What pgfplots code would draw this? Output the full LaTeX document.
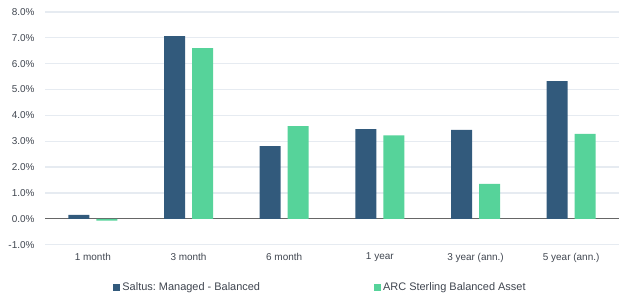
\documentclass[border=0pt]{standalone}
\usepackage{pgfplots}
\pgfplotsset{compat=1.18}
\usepackage{fontspec}
\setmainfont{Liberation Sans}
\frenchspacing
\definecolor{saltus}{HTML}{325A7C}
\definecolor{arc}{HTML}{56D39A}
\definecolor{gridc}{HTML}{E6EBF1}
\definecolor{txt}{HTML}{404650}
\begin{document}
\begin{tikzpicture}
\useasboundingbox (-45bp,-56bp) rectangle (574bp,244.6bp);
\begin{axis}[
  scale only axis, width=574bp, height=232.6bp,
  ybar=7bp, bar width=21bp,
  xmin=-0.5, xmax=5.5, ymin=-1, ymax=8,
  xtick=data,
  xticklabels={1 month,3 month,6 month,1 year,3 year (ann.),5 year (ann.)},
  ytick={-1,0,...,8},
  yticklabel={\pgfmathprintnumber[fixed,fixed zerofill,precision=1]{\tick}\%},
  /pgf/number format/assume math mode=true,
  ymajorgrids, grid style={gridc, line width=1.2pt},
  extra y ticks={0}, extra y tick labels={},
  extra y tick style={grid style={color=gray!80!black, line width=1pt}},
  axis line style={draw=none},
  major tick length=0pt,
  tick label style={font=\fontsize{10}{12}\selectfont, text=txt},
  yticklabel style={xshift=-7bp},
  xticklabel style={yshift=-5bp},
  legend style={at={(rel axis cs:0.48,0)}, yshift=-43bp, anchor=center, draw=none,
    font=\fontsize{11}{13}\selectfont, text=txt, /tikz/every even column/.append style={column sep=112bp}},
  legend columns=2,
  legend image code/.code={\fill[#1] (0bp,-3.5bp) rectangle (7bp,3.5bp);},
  legend cell align=left,
]
\addplot[fill=saltus, draw=none] coordinates {(0,0.15) (1,7.07) (2,2.81) (3,3.47) (4,3.44) (5,5.33)};
\addplot[fill=arc, draw=none] coordinates {(0,-0.07) (1,6.60) (2,3.58) (3,3.23) (4,1.35) (5,3.28)};
\legend{Saltus: Managed - Balanced, ARC Sterling Balanced Asset}
\end{axis}
\end{tikzpicture}
\end{document}
